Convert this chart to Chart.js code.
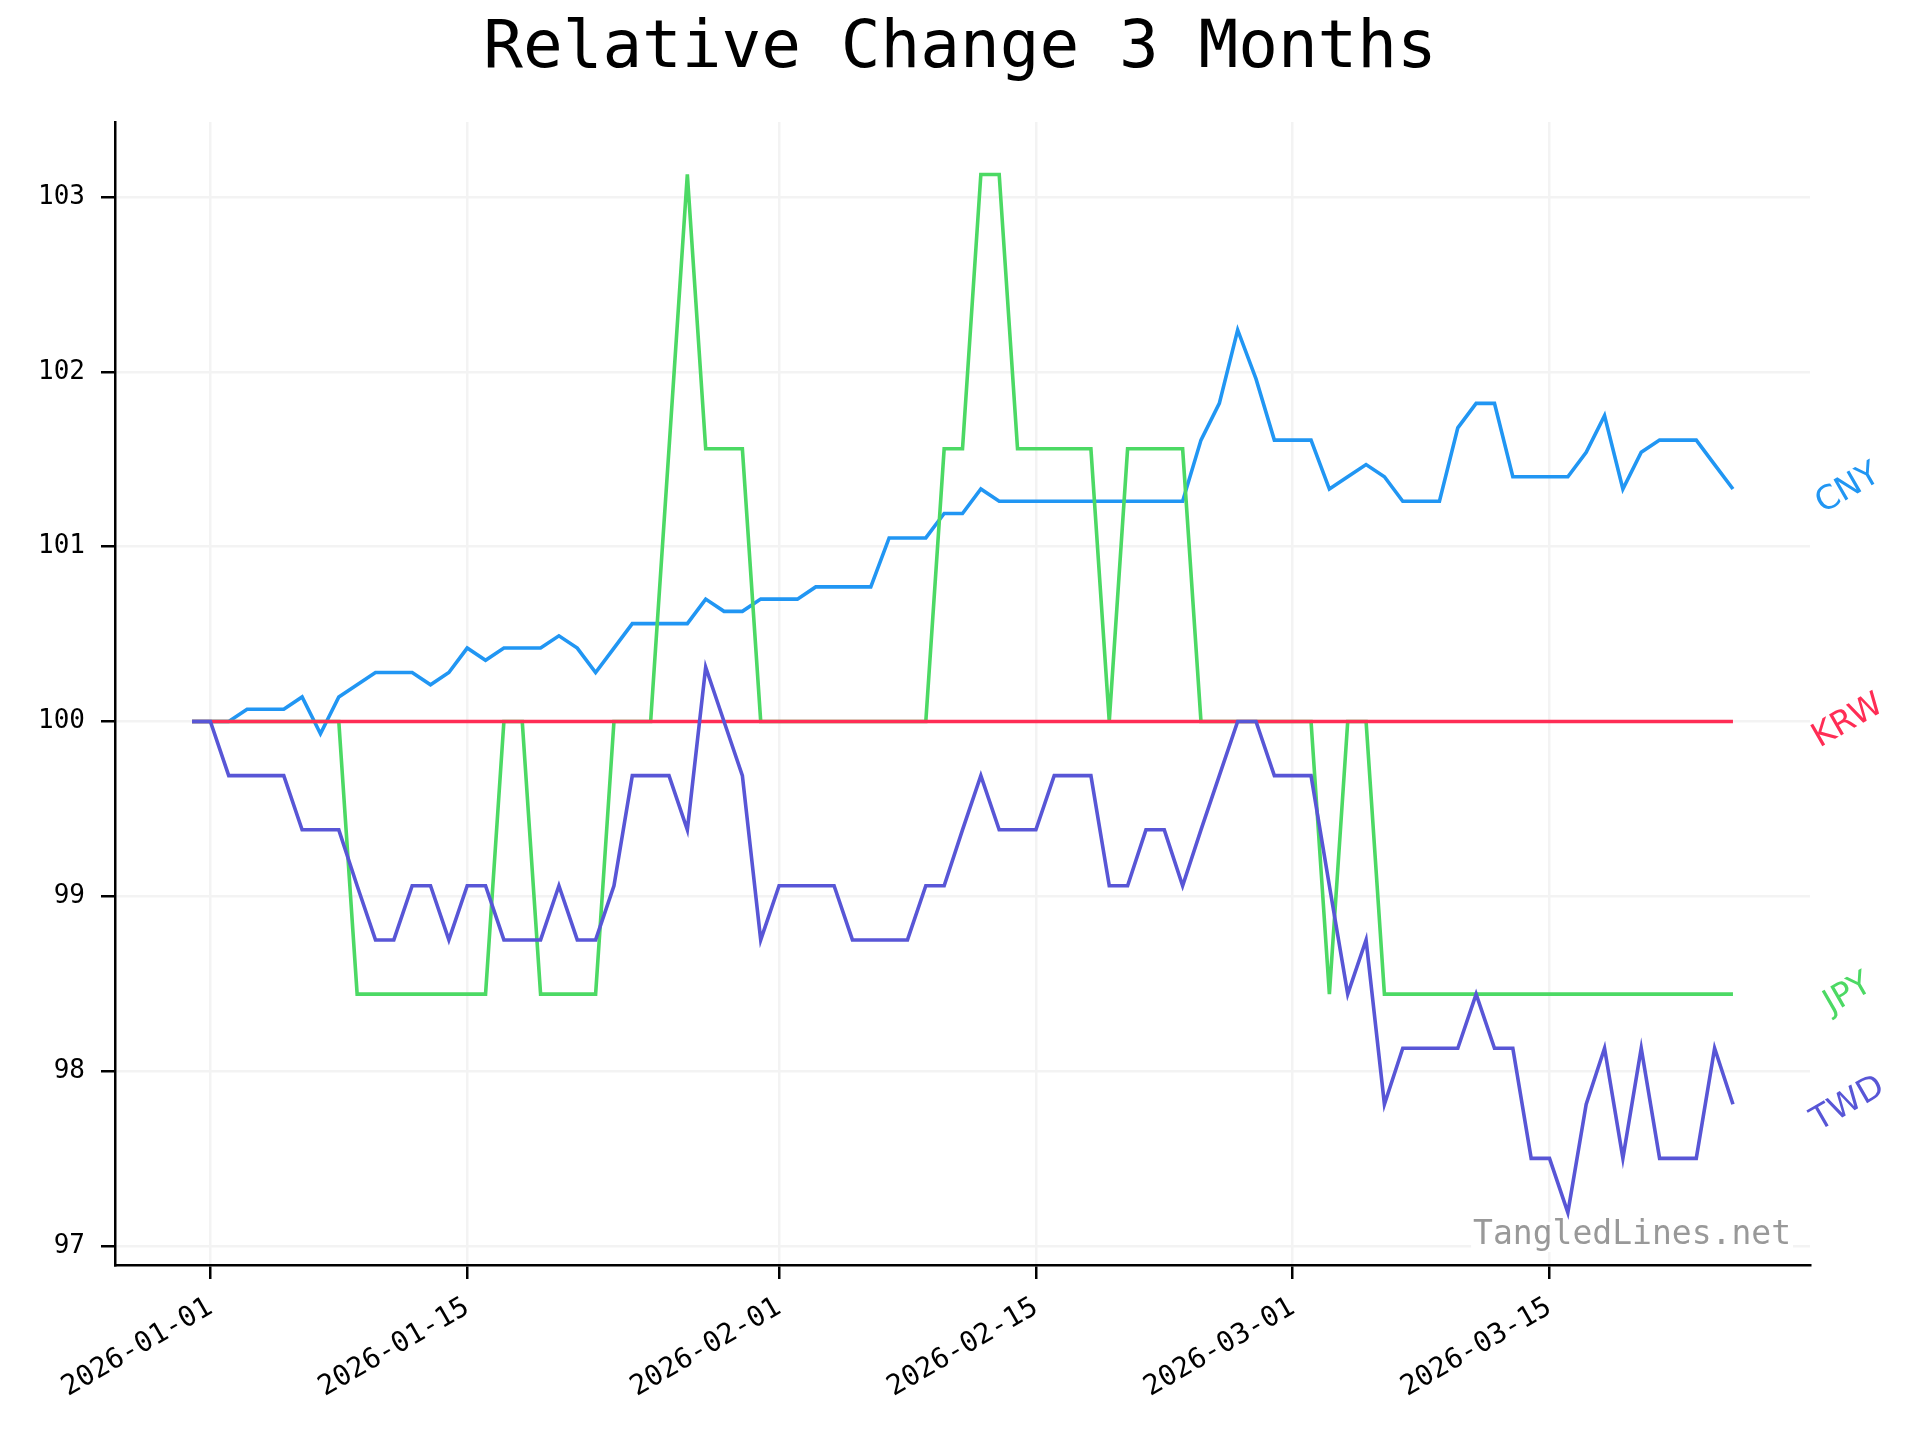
<!DOCTYPE html>
<html>
<head>
<meta charset="utf-8">
<script src="https://cdn.jsdelivr.net/npm/chart.js@4.4.1/dist/chart.umd.min.js"></script>
<style>
  html, body { margin: 0; padding: 0; background: #fff; }
  #wrap { width: 1920px; height: 1440px; }
</style>
</head>
<body>
<div id="wrap"><canvas id="chart" width="1920" height="1440"></canvas></div>
<script>
// daily series, first point is 2025-12-31
const startDate = '2025-12-31';
const seriesNames = ['CNY', 'JPY', 'KRW', 'TWD'];
const seriesColors = ['#2196F3', '#4CD964', '#FF2D55', '#5856D6'];

const cny = [100, 100, 100, 100.07, 100.07, 100.07, 100.14, 99.93, 100.14, 100.21,
  100.28, 100.28, 100.28, 100.21, 100.28, 100.42, 100.35, 100.42, 100.42, 100.42,
  100.49, 100.42, 100.28, 100.42, 100.56, 100.56, 100.56, 100.56, 100.70, 100.63,
  100.63, 100.70, 100.70, 100.70, 100.77, 100.77, 100.77, 100.77, 101.05, 101.05,
  101.05, 101.19, 101.19, 101.33, 101.26, 101.26, 101.26, 101.26, 101.26, 101.26,
  101.26, 101.26, 101.26, 101.26, 101.26, 101.61, 101.82, 102.24, 101.96, 101.61,
  101.61, 101.61, 101.33, 101.40, 101.47, 101.40, 101.26, 101.26, 101.26, 101.68,
  101.82, 101.82, 101.40, 101.40, 101.40, 101.40, 101.54, 101.75, 101.33, 101.54,
  101.61, 101.61, 101.61, 101.47, 101.33];

const jpy = [100, 100, 100, 100, 100, 100, 100, 100, 100, 98.44,
  98.44, 98.44, 98.44, 98.44, 98.44, 98.44, 98.44, 100, 100, 98.44,
  98.44, 98.44, 98.44, 100, 100, 100, 101.56, 103.13, 101.56, 101.56,
  101.56, 100, 100, 100, 100, 100, 100, 100, 100, 100,
  100, 101.56, 101.56, 103.13, 103.13, 101.56, 101.56, 101.56, 101.56, 101.56,
  100, 101.56, 101.56, 101.56, 101.56, 100, 100, 100, 100, 100,
  100, 100, 98.44, 100, 100, 98.44, 98.44, 98.44, 98.44, 98.44,
  98.44, 98.44, 98.44, 98.44, 98.44, 98.44, 98.44, 98.44, 98.44, 98.44,
  98.44, 98.44, 98.44, 98.44, 98.44];

const krw = [100, 100, 100, 100, 100, 100, 100, 100, 100, 100,
  100, 100, 100, 100, 100, 100, 100, 100, 100, 100,
  100, 100, 100, 100, 100, 100, 100, 100, 100, 100,
  100, 100, 100, 100, 100, 100, 100, 100, 100, 100,
  100, 100, 100, 100, 100, 100, 100, 100, 100, 100,
  100, 100, 100, 100, 100, 100, 100, 100, 100, 100,
  100, 100, 100, 100, 100, 100, 100, 100, 100, 100,
  100, 100, 100, 100, 100, 100, 100, 100, 100, 100,
  100, 100, 100, 100, 100];

const twd = [100, 100, 99.69, 99.69, 99.69, 99.69, 99.38, 99.38, 99.38, 99.06,
  98.75, 98.75, 99.06, 99.06, 98.75, 99.06, 99.06, 98.75, 98.75, 98.75,
  99.06, 98.75, 98.75, 99.06, 99.69, 99.69, 99.69, 99.38, 100.31, 100.0,
  99.69, 98.75, 99.06, 99.06, 99.06, 99.06, 98.75, 98.75, 98.75, 98.75,
  99.06, 99.06, 99.38, 99.69, 99.38, 99.38, 99.38, 99.69, 99.69, 99.69,
  99.06, 99.06, 99.38, 99.38, 99.06, 99.38, 99.69, 100, 100, 99.69,
  99.69, 99.69, 99.06, 98.44, 98.75, 97.81, 98.13, 98.13, 98.13, 98.13,
  98.44, 98.13, 98.13, 97.5, 97.5, 97.19, 97.81, 98.13, 97.5, 98.13,
  97.5, 97.5, 97.5, 98.13, 97.81];

const xTickLabels = ['2026-01-01', '2026-01-15', '2026-02-01', '2026-02-15', '2026-03-01', '2026-03-15'];
const yTicks = [97, 98, 99, 100, 101, 102, 103];

const DAY = 86400000;
const t0 = Date.parse(startDate + 'T00:00:00Z');
const dayIndex = (s) => (Date.parse(s + 'T00:00:00Z') - t0) / DAY;
const dates = cny.map((_, i) => new Date(t0 + i * DAY).toISOString().slice(0, 10));
const xs = dates.map(dayIndex);
const xTickPos = xTickLabels.map(dayIndex);

const allSeries = [cny, jpy, krw, twd];
const drawOrder = [3, 2, 1, 0]; // TWD on top, CNY at the bottom

const datasets = allSeries.map((vals, k) => ({
  label: seriesNames[k],
  data: vals.map((v, i) => ({ x: xs[i], y: v })),
  borderColor: seriesColors[k],
  backgroundColor: seriesColors[k],
  borderWidth: 3.6,
  pointRadius: 0,
  tension: 0,
  order: drawOrder[k]
}));

const mono = '"DejaVu Sans Mono", monospace';

// title, end labels and watermark
const decorations = {
  id: 'decorations',
  afterDatasetsDraw(chart) {
    const ctx = chart.ctx;
    const area = chart.chartArea;
    const y = chart.scales.y;

    ctx.save();
    ctx.font = '66px ' + mono;
    ctx.fillStyle = '#000';
    ctx.textAlign = 'center';
    ctx.textBaseline = 'alphabetic';
    ctx.fillText('Relative Change 3 Months', 960, 67);
    ctx.restore();

    allSeries.forEach((vals, k) => {
      const py = y.getPixelForValue(vals[vals.length - 1]);
      ctx.save();
      ctx.translate(area.right + 38, py);
      ctx.rotate(-Math.PI / 6);
      ctx.font = '33px "DejaVu Sans", sans-serif';
      ctx.fillStyle = seriesColors[k];
      ctx.textAlign = 'center';
      ctx.textBaseline = 'middle';
      ctx.fillText(seriesNames[k], 0, 0);
      ctx.restore();
    });

    ctx.save();
    ctx.font = '33px ' + mono;
    const wm = 'TangledLines.net';
    const w = ctx.measureText(wm).width;
    ctx.fillStyle = '#fff';
    ctx.fillRect(1791 - w - 2, 1222, w + 4, 30);
    ctx.fillStyle = '#999';
    ctx.textAlign = 'right';
    ctx.textBaseline = 'alphabetic';
    ctx.fillText(wm, 1791, 1244);
    ctx.restore();
  }
};

new Chart(document.getElementById('chart'), {
  type: 'line',
  data: { datasets },
  options: {
    responsive: false,
    animation: false,
    events: [],
    layout: { padding: { top: 122, right: 110, left: 0, bottom: 0 } },
    plugins: {
      legend: { display: false },
      title: { display: false },
      tooltip: { enabled: false }
    },
    scales: {
      x: {
        type: 'linear',
        min: -4.2,
        max: 88.2,
        afterBuildTicks: (axis) => { axis.ticks = xTickPos.map(v => ({ value: v })); },
        afterFit: (axis) => { axis.height = 175; },
        ticks: {
          minRotation: 30,
          maxRotation: 30,
          autoSkip: false,
          padding: 12,
          color: '#000',
          font: { family: mono, size: 28 },
          callback: (v) => xTickLabels[xTickPos.indexOf(v)]
        },
        grid: {
          color: '#f3f3f3',
          lineWidth: 2.5,
          drawTicks: true,
          tickLength: 14,
          tickColor: '#000',
          tickWidth: 2.5
        },
        border: { display: true, color: '#000', width: 2.5 }
      },
      y: {
        type: 'linear',
        min: 96.89,
        max: 103.43,
        afterBuildTicks: (axis) => { axis.ticks = yTicks.map(v => ({ value: v })); },
        afterFit: (axis) => { axis.width = 115; },
        ticks: {
          padding: 16,
          color: '#000',
          font: { family: mono, size: 26 },
          callback: (v) => String(v)
        },
        grid: {
          color: '#f3f3f3',
          lineWidth: 2.5,
          drawTicks: true,
          tickLength: 14,
          tickColor: '#000',
          tickWidth: 2.5
        },
        border: { display: true, color: '#000', width: 2.5 }
      }
    }
  },
  plugins: [decorations]
});
</script>
</body>
</html>
